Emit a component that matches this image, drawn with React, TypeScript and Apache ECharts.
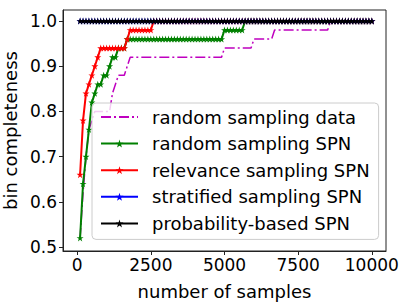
import React, { useEffect, useRef } from "react";
import * as echarts from "echarts";

const samples = [
  100, 200, 300, 400, 500, 600, 700, 800, 900, 1000,
  1100, 1200, 1300, 1400, 1500, 1600, 1700, 1800, 1900, 2000,
  2100, 2200, 2300, 2400, 2500, 2600, 2700, 2800, 2900, 3000,
  3100, 3200, 3300, 3400, 3500, 3600, 3700, 3800, 3900, 4000,
  4100, 4200, 4300, 4400, 4500, 4600, 4700, 4800, 4900, 5000,
  5100, 5200, 5300, 5400, 5500, 5600, 5700, 5800, 5900, 6000,
  6100, 6200, 6300, 6400, 6500, 6600, 6700, 6800, 6900, 7000,
  7100, 7200, 7300, 7400, 7500, 7600, 7700, 7800, 7900, 8000,
  8100, 8200, 8300, 8400, 8500, 8600, 8700, 8800, 8900, 9000,
  9100, 9200, 9300, 9400, 9500, 9600, 9700, 9800, 9900, 10000,
];

const randomSamplingData = [
  0.52, 0.62, 0.70, 0.76, 0.78, 0.80, 0.80, 0.80, 0.80, 0.80,
  0.80, 0.84, 0.86, 0.88, 0.88, 0.88, 0.90, 0.92, 0.92, 0.92,
  0.92, 0.92, 0.92, 0.92, 0.92, 0.92, 0.92, 0.92, 0.92, 0.92,
  0.92, 0.92, 0.92, 0.92, 0.92, 0.92, 0.92, 0.92, 0.92, 0.92,
  0.92, 0.92, 0.92, 0.92, 0.92, 0.92, 0.92, 0.92, 0.92, 0.94,
  0.94, 0.94, 0.94, 0.94, 0.94, 0.94, 0.94, 0.94, 0.94, 0.96,
  0.96, 0.96, 0.96, 0.96, 0.96, 0.96, 0.98, 0.98, 0.98, 0.98,
  0.98, 0.98, 0.98, 0.98, 0.98, 0.98, 0.98, 0.98, 0.98, 0.98,
  0.98, 0.98, 0.98, 0.98, 0.98, 1.0, 1.0, 1.0, 1.0, 1.0,
  1.0, 1.0, 1.0, 1.0, 1.0, 1.0, 1.0, 1.0, 1.0, 1.0,
];

const randomSamplingSPN = [
  0.52, 0.64, 0.70, 0.76, 0.82, 0.84, 0.86, 0.86, 0.88, 0.88,
  0.90, 0.92, 0.92, 0.94, 0.94, 0.94, 0.96, 0.96, 0.96, 0.96,
  0.96, 0.96, 0.96, 0.96, 0.96, 0.96, 0.96, 0.96, 0.96, 0.96,
  0.96, 0.96, 0.96, 0.96, 0.96, 0.96, 0.96, 0.96, 0.96, 0.96,
  0.96, 0.96, 0.96, 0.96, 0.96, 0.96, 0.96, 0.96, 0.96, 0.98,
  0.98, 0.98, 0.98, 0.98, 0.98, 0.98, 1.0, 1.0, 1.0, 1.0,
  1.0, 1.0, 1.0, 1.0, 1.0, 1.0, 1.0, 1.0, 1.0, 1.0,
  1.0, 1.0, 1.0, 1.0, 1.0, 1.0, 1.0, 1.0, 1.0, 1.0,
  1.0, 1.0, 1.0, 1.0, 1.0, 1.0, 1.0, 1.0, 1.0, 1.0,
  1.0, 1.0, 1.0, 1.0, 1.0, 1.0, 1.0, 1.0, 1.0, 1.0,
];

const relevanceSamplingSPN = [
  0.66, 0.78, 0.84, 0.86, 0.88, 0.90, 0.92, 0.94, 0.94, 0.94,
  0.94, 0.94, 0.94, 0.94, 0.94, 0.94, 0.96, 0.98, 0.98, 0.98,
  0.98, 0.98, 0.98, 0.98, 0.98, 1.0, 1.0, 1.0, 1.0, 1.0,
  1.0, 1.0, 1.0, 1.0, 1.0, 1.0, 1.0, 1.0, 1.0, 1.0,
  1.0, 1.0, 1.0, 1.0, 1.0, 1.0, 1.0, 1.0, 1.0, 1.0,
  1.0, 1.0, 1.0, 1.0, 1.0, 1.0, 1.0, 1.0, 1.0, 1.0,
  1.0, 1.0, 1.0, 1.0, 1.0, 1.0, 1.0, 1.0, 1.0, 1.0,
  1.0, 1.0, 1.0, 1.0, 1.0, 1.0, 1.0, 1.0, 1.0, 1.0,
  1.0, 1.0, 1.0, 1.0, 1.0, 1.0, 1.0, 1.0, 1.0, 1.0,
  1.0, 1.0, 1.0, 1.0, 1.0, 1.0, 1.0, 1.0, 1.0, 1.0,
];

const stratifiedSamplingSPN = [
  1.0, 1.0, 1.0, 1.0, 1.0, 1.0, 1.0, 1.0, 1.0, 1.0,
  1.0, 1.0, 1.0, 1.0, 1.0, 1.0, 1.0, 1.0, 1.0, 1.0,
  1.0, 1.0, 1.0, 1.0, 1.0, 1.0, 1.0, 1.0, 1.0, 1.0,
  1.0, 1.0, 1.0, 1.0, 1.0, 1.0, 1.0, 1.0, 1.0, 1.0,
  1.0, 1.0, 1.0, 1.0, 1.0, 1.0, 1.0, 1.0, 1.0, 1.0,
  1.0, 1.0, 1.0, 1.0, 1.0, 1.0, 1.0, 1.0, 1.0, 1.0,
  1.0, 1.0, 1.0, 1.0, 1.0, 1.0, 1.0, 1.0, 1.0, 1.0,
  1.0, 1.0, 1.0, 1.0, 1.0, 1.0, 1.0, 1.0, 1.0, 1.0,
  1.0, 1.0, 1.0, 1.0, 1.0, 1.0, 1.0, 1.0, 1.0, 1.0,
  1.0, 1.0, 1.0, 1.0, 1.0, 1.0, 1.0, 1.0, 1.0, 1.0,
];

const probabilityBasedSPN = [
  1.0, 1.0, 1.0, 1.0, 1.0, 1.0, 1.0, 1.0, 1.0, 1.0,
  1.0, 1.0, 1.0, 1.0, 1.0, 1.0, 1.0, 1.0, 1.0, 1.0,
  1.0, 1.0, 1.0, 1.0, 1.0, 1.0, 1.0, 1.0, 1.0, 1.0,
  1.0, 1.0, 1.0, 1.0, 1.0, 1.0, 1.0, 1.0, 1.0, 1.0,
  1.0, 1.0, 1.0, 1.0, 1.0, 1.0, 1.0, 1.0, 1.0, 1.0,
  1.0, 1.0, 1.0, 1.0, 1.0, 1.0, 1.0, 1.0, 1.0, 1.0,
  1.0, 1.0, 1.0, 1.0, 1.0, 1.0, 1.0, 1.0, 1.0, 1.0,
  1.0, 1.0, 1.0, 1.0, 1.0, 1.0, 1.0, 1.0, 1.0, 1.0,
  1.0, 1.0, 1.0, 1.0, 1.0, 1.0, 1.0, 1.0, 1.0, 1.0,
  1.0, 1.0, 1.0, 1.0, 1.0, 1.0, 1.0, 1.0, 1.0, 1.0,
];

const seriesNames = [
  "random sampling data",
  "random sampling SPN",
  "relevance sampling SPN",
  "stratified sampling SPN",
  "probability-based SPN",
];

const xTicks = [0, 2500, 5000, 7500, 10000];
const yTicks = [0.5, 0.6, 0.7, 0.8, 0.9, 1.0];

const STAR =
  "path://M50,0 L61.2,34.5 L97.6,34.5 L68.2,55.9 L79.4,90.5 L50,69.1 L20.6,90.5 L31.8,55.9 L2.4,34.5 L38.8,34.5 Z";

const FONT = "DejaVu Sans";

function pairs(values: number[]) {
  return samples.map((s, i) => [s, values[i]]);
}

export default function App() {
  const ref = useRef<HTMLDivElement>(null);

  useEffect(() => {
    if (!ref.current) return;
    const chart = echarts.init(ref.current, null, { renderer: "svg" });

    const starSeries = (name: string, values: number[], color: string, width: number) => ({
      name,
      type: "line",
      data: pairs(values),
      symbol: STAR,
      symbolSize: 7,
      showSymbol: true,
      lineStyle: { color, width },
      itemStyle: { color, borderWidth: 0 },
      emphasis: { disabled: true },
    });

    chart.setOption({
      animation: false,
      backgroundColor: "#ffffff",
      textStyle: { fontFamily: FONT },
      grid: {
        left: 63,
        right: 21,
        top: 10,
        bottom: 52,
        show: true,
        borderColor: "#222",
        borderWidth: 1,
        backgroundColor: "transparent",
        outerBoundsMode: "none",
      },
      legend: {
        orient: "vertical",
        left: 92,
        top: 103,
        padding: [4, 9, 6, 8],
        itemWidth: 37,
        itemHeight: 10,
        itemGap: 6.6,
        backgroundColor: "rgba(255,255,255,0.8)",
        borderColor: "#cccccc",
        borderWidth: 1,
        borderRadius: 4,
        data: [
          { name: seriesNames[0], itemStyle: { opacity: 0 } },
          seriesNames[1],
          seriesNames[2],
          seriesNames[3],
          seriesNames[4],
        ],
        textStyle: {
          fontFamily: FONT,
          fontSize: 18,
          color: "#000",
          lineHeight: 20,
          padding: [0, 0, 0, 9],
        },
        z: 10,
      },
      xAxis: {
        type: "value",
        min: -480,
        max: 10480,
        name: "number of samples",
        nameLocation: "middle",
        nameGap: 31,
        nameTextStyle: { fontFamily: FONT, fontSize: 18, color: "#000" },
        splitLine: { show: false },
        axisLine: { show: true, onZero: false, lineStyle: { color: "#222", width: 1 } },
        axisTick: {
          show: true,
          inside: false,
          length: 4,
          customValues: xTicks,
          lineStyle: { color: "#222" },
        },
        axisLabel: {
          customValues: xTicks,
          margin: 5,
          fontFamily: FONT,
          fontSize: 17,
          color: "#000",
          formatter: (v: number) => String(v),
        },
      },
      yAxis: {
        type: "value",
        min: 0.4912,
        max: 1.0243,
        name: "bin completeness",
        nameLocation: "middle",
        nameRotate: 90,
        nameGap: 42,
        nameTextStyle: { fontFamily: FONT, fontSize: 18, color: "#000" },
        splitLine: { show: false },
        axisLine: { show: true, onZero: false, lineStyle: { color: "#222", width: 1 } },
        axisTick: {
          show: true,
          inside: false,
          length: 4,
          customValues: yTicks,
          lineStyle: { color: "#222" },
        },
        axisLabel: {
          customValues: yTicks,
          margin: 6,
          fontFamily: FONT,
          fontSize: 17,
          color: "#000",
          formatter: (v: number) => v.toFixed(1),
        },
      },
      series: [
        {
          name: seriesNames[0],
          type: "line",
          data: pairs(randomSamplingData),
          symbol: "none",
          showSymbol: false,
          lineStyle: { color: "#bf00bf", width: 1.5, type: [10, 3, 2, 3] },
          itemStyle: { color: "#bf00bf" },
          emphasis: { disabled: true },
        },
        starSeries(seriesNames[1], randomSamplingSPN, "#008000", 2),
        starSeries(seriesNames[2], relevanceSamplingSPN, "#ff0000", 2),
        starSeries(seriesNames[3], stratifiedSamplingSPN, "#0000ff", 2),
        starSeries(seriesNames[4], probabilityBasedSPN, "#000000", 1.5),
      ],
    });

    return () => chart.dispose();
  }, []);

  return (
    <div
      ref={ref}
      style={{ position: "fixed", left: 0, top: 0, width: 407, height: 303 }}
    />
  );
}
